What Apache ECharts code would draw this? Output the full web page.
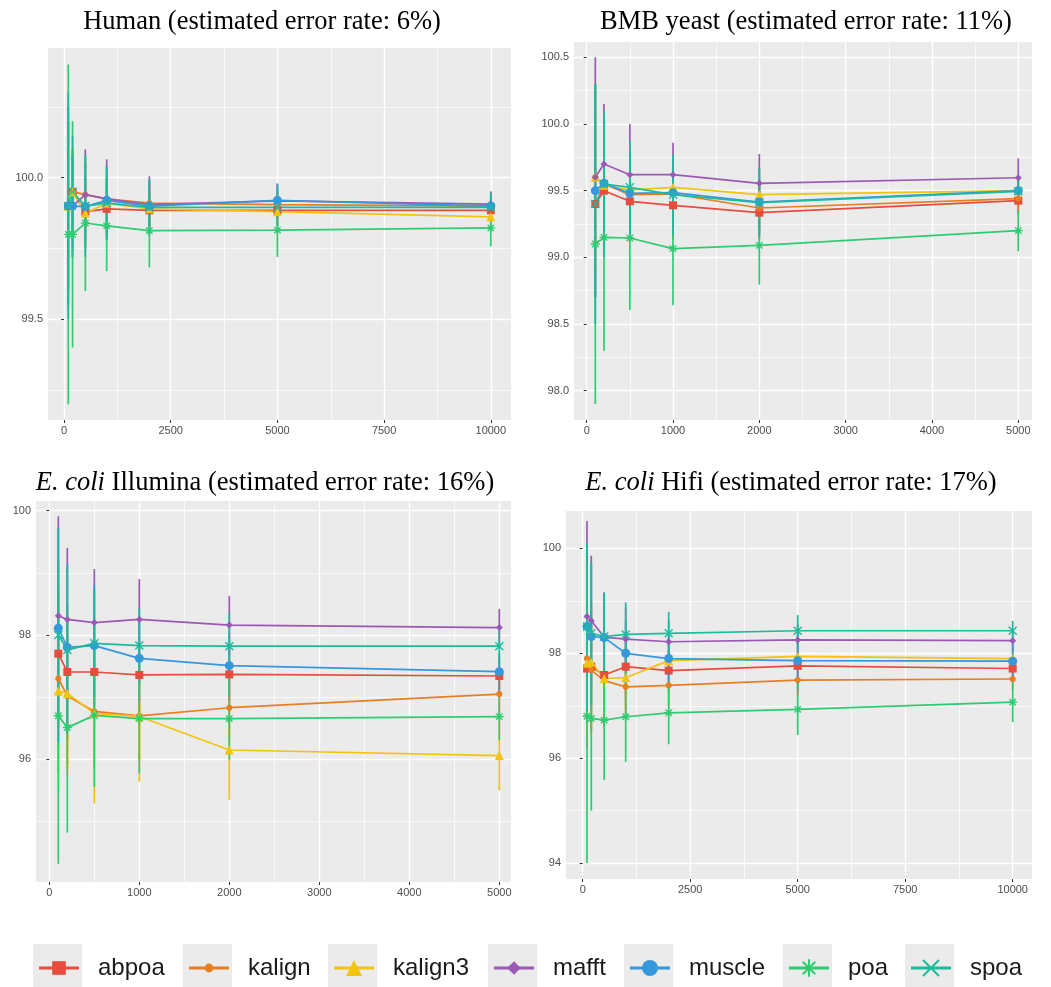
<!DOCTYPE html>
<html>
<head>
<meta charset="utf-8">
<script src="https://cdn.jsdelivr.net/npm/echarts@6/dist/echarts.min.js"></script>
<style>
  html, body { margin: 0; padding: 0; background: #fff; }
  #chart { width: 1051px; height: 987px; }
</style>
</head>
<body>
<div id="chart"></div>
<script>
// 方法名与颜色
const methods = ['abpoa', 'kalign', 'kalign3', 'mafft', 'muscle', 'poa', 'spoa'];
const colors = ['#E74C3C', '#E67E22', '#F1C40F', '#9B59B6', '#3498DB', '#2ECC71', '#1ABC9C'];

// 横轴取值
const xLong = [100, 200, 500, 1000, 2000, 5000, 10000];
const xShort = [100, 200, 500, 1000, 2000, 5000];

// 刻度
const xTicksLong = [0, 2500, 5000, 7500, 10000];
const xMinorLong = [1250, 3750, 6250, 8750];
const xTicksShort = [0, 1000, 2000, 3000, 4000, 5000];
const xMinorShort = [500, 1500, 2500, 3500, 4500];
const humanYTicks = [99.5, 100.0];
const humanYMinor = [99.25, 99.75, 100.25];
const yeastYTicks = [98.0, 98.5, 99.0, 99.5, 100.0, 100.5];
const yeastYMinor = [98.25, 98.75, 99.25, 99.75, 100.25];
const illuminaYTicks = [96, 98, 100];
const illuminaYMinor = [95, 97, 99];
const hifiYTicks = [94, 96, 98, 100];
const hifiYMinor = [95, 97, 99];

// Human：均值 / 误差（按 methods 顺序）
const humanMean = [
  [99.90, 99.95, 99.88, 99.89, 99.885, 99.885, 99.885],
  [99.90, 99.95, 99.94, 99.925, 99.91, 99.905, 99.90],
  [99.90, 99.95, 99.875, 99.91, 99.89, 99.88, 99.862],
  [99.90, 99.90, 99.94, 99.925, 99.905, 99.918, 99.907],
  [99.90, 99.90, 99.898, 99.92, 99.90, 99.92, 99.90],
  [99.80, 99.80, 99.84, 99.83, 99.813, 99.815, 99.823],
  [99.90, 99.95, 99.90, 99.91, 99.895, 99.895, 99.895]
];
const humanSd = [
  [0.30, 0.15, 0.12, 0.10, 0.08, 0.05, 0.04],
  [0.30, 0.15, 0.12, 0.10, 0.08, 0.05, 0.04],
  [0.30, 0.15, 0.12, 0.10, 0.08, 0.05, 0.04],
  [0.35, 0.18, 0.16, 0.14, 0.10, 0.06, 0.045],
  [0.35, 0.18, 0.15, 0.12, 0.09, 0.06, 0.04],
  [0.60, 0.40, 0.24, 0.16, 0.13, 0.095, 0.065],
  [0.40, 0.20, 0.18, 0.13, 0.10, 0.07, 0.05]
];

// BMB yeast
const yeastMean = [
  [99.40, 99.50, 99.42, 99.39, 99.335, 99.425],
  [99.60, 99.55, 99.47, 99.475, 99.37, 99.44],
  [99.60, 99.54, 99.505, 99.525, 99.47, 99.50],
  [99.60, 99.70, 99.62, 99.62, 99.555, 99.597],
  [99.50, 99.555, 99.48, 99.485, 99.415, 99.50],
  [99.10, 99.15, 99.145, 99.065, 99.09, 99.20],
  [99.40, 99.55, 99.525, 99.47, 99.41, 99.495]
];
const yeastSd = [
  [0.70, 0.40, 0.30, 0.25, 0.20, 0.10],
  [0.70, 0.40, 0.30, 0.25, 0.20, 0.10],
  [0.70, 0.40, 0.30, 0.25, 0.20, 0.10],
  [0.90, 0.45, 0.38, 0.24, 0.22, 0.145],
  [0.80, 0.50, 0.33, 0.27, 0.24, 0.10],
  [1.20, 0.85, 0.54, 0.425, 0.295, 0.155],
  [0.90, 0.55, 0.35, 0.30, 0.26, 0.08]
];

// E. coli Illumina
const illuminaMean = [
  [97.70, 97.405, 97.405, 97.357, 97.367, 97.34],
  [97.30, 97.02, 96.77, 96.70, 96.83, 97.05],
  [97.10, 97.06, 96.74, 96.69, 96.15, 96.06],
  [98.31, 98.25, 98.20, 98.25, 98.16, 98.12],
  [98.11, 97.80, 97.83, 97.625, 97.507, 97.41],
  [96.70, 96.51, 96.707, 96.654, 96.654, 96.686],
  [98.00, 97.76, 97.866, 97.83, 97.82, 97.82]
];
const illuminaSd = [
  [1.50, 1.10, 0.80, 0.60, 0.45, 0.30],
  [1.50, 1.10, 0.90, 0.70, 0.50, 0.35],
  [1.60, 1.30, 1.45, 1.05, 0.80, 0.56],
  [1.60, 1.15, 0.86, 0.65, 0.47, 0.30],
  [1.60, 1.35, 0.97, 0.70, 0.50, 0.30],
  [2.38, 1.69, 1.15, 0.88, 0.66, 0.38],
  [1.72, 1.34, 0.86, 0.60, 0.53, 0.31]
];

// E. coli Hifi
const hifiMean = [
  [97.71, 97.745, 97.586, 97.745, 97.67, 97.76, 97.71],
  [97.90, 97.68, 97.48, 97.36, 97.39, 97.49, 97.51],
  [97.81, 97.83, 97.52, 97.535, 97.86, 97.94, 97.90],
  [98.70, 98.62, 98.31, 98.27, 98.22, 98.255, 98.24],
  [98.51, 98.32, 98.30, 98.00, 97.90, 97.86, 97.85],
  [96.80, 96.758, 96.726, 96.79, 96.866, 96.93, 97.07],
  [98.51, 98.38, 98.32, 98.36, 98.38, 98.43, 98.43]
];
const hifiSd = [
  [1.50, 1.20, 0.90, 0.60, 0.40, 0.30, 0.20],
  [1.50, 1.20, 0.90, 0.60, 0.40, 0.30, 0.20],
  [1.50, 1.20, 0.90, 0.60, 0.40, 0.30, 0.20],
  [1.82, 1.24, 0.85, 0.60, 0.40, 0.30, 0.20],
  [1.60, 1.37, 0.85, 0.60, 0.45, 0.56, 0.35],
  [2.80, 1.76, 1.14, 0.86, 0.60, 0.49, 0.38],
  [1.59, 1.35, 0.84, 0.61, 0.41, 0.30, 0.19]
];

// 每个方法的点形状与大小
const symbols = ['rect', 'circle', 'triangle', 'diamond', 'circle',
  'path://M5,0L5,10M0,5L10,5M1.46,1.46L8.54,8.54M1.46,8.54L8.54,1.46',
  'path://M0,0L10,10M0,10L10,0'];
const symbolSizes = [8, 6, 9, 7, 9, 9, 8];
const legendItemHeights = [17, 11, 20, 17, 20, 22, 20];
const legendLefts = [33, 183, 328, 488, 624, 783, 905];

// 面板布局
const panels = [
  {
    title: 'Human (estimated error rate: 6%)', titleX: 262, titleY: 9,
    grid: {left: 48, top: 48, width: 463, height: 372},
    xMin: -375, xMax: 10473, yMin: 99.1445, yMax: 100.458,
    xs: xLong, mean: humanMean, sd: humanSd,
    xTicks: xTicksLong, xMinor: xMinorLong, yTicks: humanYTicks, yMinor: humanYMinor, digits: 1
  },
  {
    title: 'BMB yeast (estimated error rate: 11%)', titleX: 806, titleY: 9,
    grid: {left: 574, top: 42, width: 458, height: 378},
    xMin: -147, xMax: 5159, yMin: 97.78, yMax: 100.615,
    xs: xShort, mean: yeastMean, sd: yeastSd,
    xTicks: xTicksShort, xMinor: xMinorShort, yTicks: yeastYTicks, yMinor: yeastYMinor, digits: 1
  },
  {
    title: '{i|E. coli} Illumina (estimated error rate: 16%)', titleX: 265, titleY: 470,
    grid: {left: 36, top: 501, width: 475, height: 381},
    xMin: -148, xMax: 5130, yMin: 94.026, yMax: 100.156,
    xs: xShort, mean: illuminaMean, sd: illuminaSd,
    xTicks: xTicksShort, xMinor: xMinorShort, yTicks: illuminaYTicks, yMinor: illuminaYMinor, digits: 0
  },
  {
    title: '{i|E. coli} Hifi (estimated error rate: 17%)', titleX: 791, titleY: 470,
    grid: {left: 566, top: 511, width: 466, height: 368},
    xMin: -388, xMax: 10449, yMin: 93.697, yMax: 100.713,
    xs: xLong, mean: hifiMean, sd: hifiSd,
    xTicks: xTicksLong, xMinor: xMinorLong, yTicks: hifiYTicks, yMinor: hifiYMinor, digits: 0
  }
];

const chart = echarts.init(document.getElementById('chart'), null, {renderer: 'canvas'});

const titleFont = {fontFamily: 'Liberation Serif', fontSize: 26.5, fontWeight: 'normal', color: '#000'};
const tickFont = {color: '#4D4D4D', fontSize: 11, fontFamily: '"Liberation Sans Narrow", "Liberation Sans"'};
const grids = [], xAxes = [], yAxes = [], lineSeries = [], barSeries = [];

panels.forEach((p, i) => {
  grids.push(Object.assign({show: true, backgroundColor: '#EBEBEB', borderWidth: 0}, p.grid));

  // 主刻度轴（带标签）
  xAxes.push({
    gridIndex: i, type: 'value', min: p.xMin, max: p.xMax,
    axisLine: {show: false},
    axisTick: {show: true, customValues: p.xTicks, length: 3, lineStyle: {color: '#333', width: 1}},
    axisLabel: Object.assign({customValues: p.xTicks, margin: 5, formatter: v => String(v)}, tickFont),
    splitLine: {show: true, lineStyle: {color: '#fff', width: 1.4}}
  });
  // 次网格线
  xAxes.push({
    gridIndex: i, type: 'value', min: p.xMin, max: p.xMax,
    axisLine: {show: false},
    axisTick: {show: false, customValues: p.xMinor},
    axisLabel: {show: false, customValues: p.xMinor},
    splitLine: {show: true, lineStyle: {color: '#fff', width: 0.7}}
  });
  yAxes.push({
    gridIndex: i, type: 'value', min: p.yMin, max: p.yMax,
    axisLine: {show: false},
    axisTick: {show: true, customValues: p.yTicks, length: 3, lineStyle: {color: '#333', width: 1}},
    axisLabel: Object.assign({
      customValues: p.yTicks, margin: 5,
      formatter: v => Number(v).toFixed(p.digits)
    }, tickFont),
    splitLine: {show: true, lineStyle: {color: '#fff', width: 1.4}}
  });
  yAxes.push({
    gridIndex: i, type: 'value', min: p.yMin, max: p.yMax, position: 'left',
    axisLine: {show: false},
    axisTick: {show: false, customValues: p.yMinor},
    axisLabel: {show: false, customValues: p.yMinor},
    splitLine: {show: true, lineStyle: {color: '#fff', width: 0.7}}
  });

  methods.forEach((m, k) => {
    const isStroke = k >= 5;
    lineSeries.push({
      type: 'line', name: m,
      xAxisIndex: 2 * i, yAxisIndex: 2 * i,
      data: p.xs.map((x, j) => [x, p.mean[k][j]]),
      color: colors[k],
      symbol: symbols[k],
      symbolSize: symbolSizes[k],
      showSymbol: true,
      lineStyle: {width: 1.7, color: colors[k]},
      itemStyle: isStroke
        ? {color: colors[k], borderColor: colors[k], borderWidth: 1.4}
        : {color: colors[k], borderWidth: 0},
      z: 3, animation: false, silent: true,
      emphasis: {disabled: true}
    });
    // 误差线
    barSeries.push({
      type: 'custom', name: m,
      xAxisIndex: 2 * i, yAxisIndex: 2 * i,
      data: p.xs.map((x, j) => [x, p.mean[k][j] - p.sd[k][j], p.mean[k][j] + p.sd[k][j]]),
      encode: {x: 0, y: [1, 2]},
      clip: true, z: 2, silent: true, animation: false,
      renderItem: (params, api) => {
        const lo = api.coord([api.value(0), api.value(1)]);
        const hi = api.coord([api.value(0), api.value(2)]);
        return {
          type: 'line',
          shape: {x1: lo[0], y1: lo[1], x2: hi[0], y2: hi[1]},
          style: {stroke: colors[k], lineWidth: 1.7}
        };
      }
    });
  });
});

const titles = panels.map(p => ({
  text: p.title, left: p.titleX, top: p.titleY, textAlign: 'center', padding: 0,
  textStyle: Object.assign({}, titleFont, {rich: {i: Object.assign({}, titleFont, {fontStyle: 'italic'})}})
}));

const legends = methods.map((m, k) => ({
  data: [m],
  left: legendLefts[k] + 4.5,
  top: 956,
  itemWidth: 40,
  itemHeight: legendItemHeights[k],
  padding: 0,
  selectedMode: false,
  lineStyle: {width: 3},
  textStyle: {fontSize: 24, color: '#1A1A1A', fontFamily: 'Liberation Sans', padding: [0, 0, 0, 14]}
}));

// 图例灰色底块
const legendBoxes = legendLefts.map(l => ({
  type: 'rect', left: l, top: 944, z: 0, silent: true,
  shape: {width: 49, height: 44},
  style: {fill: '#EBEBEB'}
}));

chart.setOption({
  backgroundColor: '#fff',
  animation: false,
  title: titles,
  legend: legends,
  grid: grids,
  xAxis: xAxes,
  yAxis: yAxes,
  graphic: legendBoxes,
  series: lineSeries.concat(barSeries)
});

window.addEventListener('resize', () => chart.resize());
</script>
</body>
</html>
